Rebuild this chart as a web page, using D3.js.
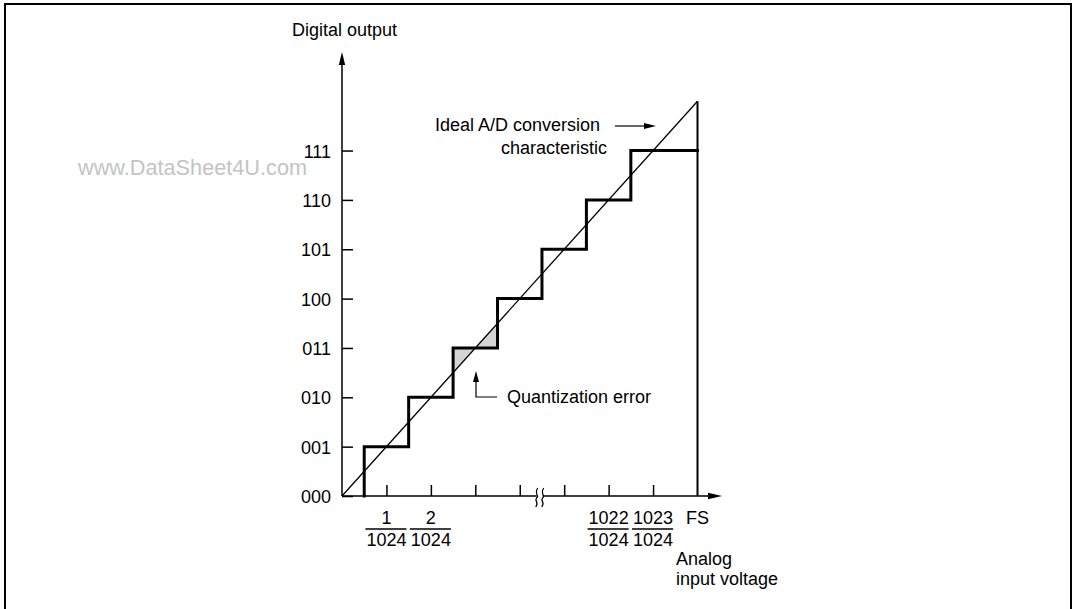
<!DOCTYPE html>
<html>
<head>
<meta charset="utf-8">
<script src="https://cdn.jsdelivr.net/npm/d3@7"></script>
<style>
  html, body { margin: 0; padding: 0; background: #fff; }
  svg { display: block; }
  text { font-family: "Liberation Sans", Arial, Helvetica, sans-serif; fill: #000; }
</style>
</head>
<body>
<svg id="chart" width="1076" height="609"></svg>
<script>
// ---- data ----
const codeLabels = ["000", "001", "010", "011", "100", "101", "110", "111"];
const codeValues = [0, 1, 2, 3, 4, 5, 6, 7];
const stepEdges = [0.5, 1.5, 2.5, 3.5, 4.5, 5.5, 6.5];   // input (LSB units) where the code changes
const stepLevels = [1, 2, 3, 4, 5, 6, 7];                 // code after each edge
const fullScale = 8;
const xTickUnits = [1, 2, 3, 4, 5, 6, 7];
const fracTicks = [1, 2, 6, 7];
const fracNumerators = ["1", "2", "1022", "1023"];
const fracDenominator = "1024";
const fsLabel = "FS";
const breakAt = 4.45;
const errorTriangleA = [[2.5, 2.5], [2.5, 3], [3, 3]];
const errorTriangleB = [[3, 3], [3.5, 3], [3.5, 3.5]];

const svg = d3.select("#chart");
const FONT = 18;

// frame
svg.append("rect").attr("x", 5).attr("y", 4).attr("width", 1066).attr("height", 640)
  .attr("fill", "none").attr("stroke", "#000").attr("stroke-width", 2);

const x = d3.scaleLinear().domain([0, fullScale]).range([342, 697.5]);
const y = d3.scaleLinear().domain([0, fullScale]).range([496, 101.2]);

// watermark
svg.append("text").attr("x", 78).attr("y", 175).attr("font-size", 21.7)
  .style("fill", "#c4c4c4").text("www.DataSheet4U.com");

// shaded quantization error
const line = d3.line().x(d => x(d[0])).y(d => y(d[1]));
[errorTriangleA, errorTriangleB].forEach(tri => {
  svg.append("path").attr("d", line(tri) + "Z").attr("fill", "#d4d4d4").attr("stroke", "none");
});

// axes
const yAxis = d3.axisRight(y).tickValues(codeValues).tickSize(11).tickFormat("");
const gy = svg.append("g").attr("transform", `translate(${x(0)},0)`).call(yAxis);
gy.select(".domain").remove();
gy.selectAll(".tick line").attr("stroke", "#000").attr("stroke-width", 1.5);

const xAxis = d3.axisTop(x).tickValues(xTickUnits).tickSize(11).tickFormat("");
const gx = svg.append("g").attr("transform", `translate(0,${y(0)})`).call(xAxis);
gx.select(".domain").remove();
gx.selectAll(".tick line").attr("stroke", "#000").attr("stroke-width", 1.5);

// axis lines with arrows
svg.append("line").attr("x1", x(0)).attr("y1", y(0)).attr("x2", x(0)).attr("y2", 62)
  .attr("stroke", "#000").attr("stroke-width", 1.5);
svg.append("path").attr("d", `M${x(0)},52 L${x(0) - 3.2},65 L${x(0) + 3.2},65 Z`).attr("fill", "#000");
svg.append("line").attr("x1", x(0)).attr("y1", y(0)).attr("x2", 712).attr("y2", y(0))
  .attr("stroke", "#000").attr("stroke-width", 1.5);
svg.append("path").attr("d", `M722,${y(0)} L708,${y(0) - 3.2} L708,${y(0) + 3.2} Z`).attr("fill", "#000");

// axis break
const bx = x(breakAt);
svg.append("rect").attr("x", bx - 3).attr("y", y(0) - 3).attr("width", 6).attr("height", 6).attr("fill", "#fff");
[-3, 3].forEach(dx => {
  const cx = bx + dx, t = y(0) - 8, b = y(0) + 11;
  svg.append("path")
    .attr("d", `M${cx + 1},${t} C${cx - 3},${t + 5} ${cx + 3},${t + 9} ${cx},${(t + b) / 2} C${cx - 3},${(t + b) / 2 + 4} ${cx + 3},${b - 5} ${cx - 1},${b}`)
    .attr("fill", "none").attr("stroke", "#000").attr("stroke-width", 1.2);
});

// y tick labels
svg.selectAll(".ylab").data(codeValues).enter().append("text")
  .attr("class", "ylab").attr("x", 331).attr("y", d => y(d) + 7)
  .attr("text-anchor", "end").attr("font-size", FONT).text((d, i) => codeLabels[i]);

// ideal characteristic
svg.append("line").attr("x1", x(0)).attr("y1", y(0)).attr("x2", x(fullScale)).attr("y2", y(fullScale))
  .attr("stroke", "#000").attr("stroke-width", 1.3);

// full-scale vertical
svg.append("line").attr("x1", x(fullScale)).attr("y1", y(0)).attr("x2", x(fullScale)).attr("y2", y(fullScale))
  .attr("stroke", "#000").attr("stroke-width", 2);

// staircase
const stairPts = [];
stepEdges.forEach((e, i) => {
  stairPts.push([e, i === 0 ? 0 : stepLevels[i - 1]]);
  stairPts.push([e, stepLevels[i]]);
});
stairPts.push([fullScale, stepLevels[stepLevels.length - 1]]);
svg.append("path").attr("d", line(stairPts)).attr("fill", "none")
  .attr("stroke", "#000").attr("stroke-width", 3).attr("stroke-linejoin", "miter").attr("stroke-linecap", "square");

// x fraction labels
fracTicks.forEach((t, i) => {
  const cx = x(t);
  svg.append("text").attr("x", cx).attr("y", 524).attr("text-anchor", "middle").attr("font-size", FONT).text(fracNumerators[i]);
  const den = svg.append("text").attr("x", cx).attr("y", 546).attr("text-anchor", "middle").attr("font-size", FONT).text(fracDenominator);
  const w = den.node().getComputedTextLength();
  svg.append("line").attr("x1", cx - w / 2 - 1).attr("x2", cx + w / 2).attr("y1", 529).attr("y2", 529)
    .attr("stroke", "#000").attr("stroke-width", 1.3);
});
svg.append("text").attr("x", x(fullScale)).attr("y", 524).attr("text-anchor", "middle").attr("font-size", FONT).text(fsLabel);

// axis titles
svg.append("text").attr("x", 292).attr("y", 36).attr("font-size", FONT).text("Digital output");
svg.append("text").attr("x", 676).attr("y", 565).attr("font-size", FONT).text("Analog");
svg.append("text").attr("x", 676).attr("y", 585).attr("font-size", FONT).text("input voltage");

// ideal annotation
svg.append("text").attr("x", 600).attr("y", 131).attr("text-anchor", "end").attr("font-size", FONT).text("Ideal A/D conversion");
svg.append("text").attr("x", 607).attr("y", 154).attr("text-anchor", "end").attr("font-size", FONT).text("characteristic");
svg.append("line").attr("x1", 615).attr("y1", 126).attr("x2", 646).attr("y2", 126).attr("stroke", "#000").attr("stroke-width", 1.2);
svg.append("path").attr("d", "M656,126 L644,123 L644,129 Z").attr("fill", "#000");

// quantization error annotation
svg.append("path").attr("d", "M497,397 L476,397 L476,380").attr("fill", "none").attr("stroke", "#000").attr("stroke-width", 1.2);
svg.append("path").attr("d", "M476,371 L473,382 L479,382 Z").attr("fill", "#000");
svg.append("text").attr("x", 507).attr("y", 403).attr("font-size", FONT).text("Quantization error");
</script>
</body>
</html>
